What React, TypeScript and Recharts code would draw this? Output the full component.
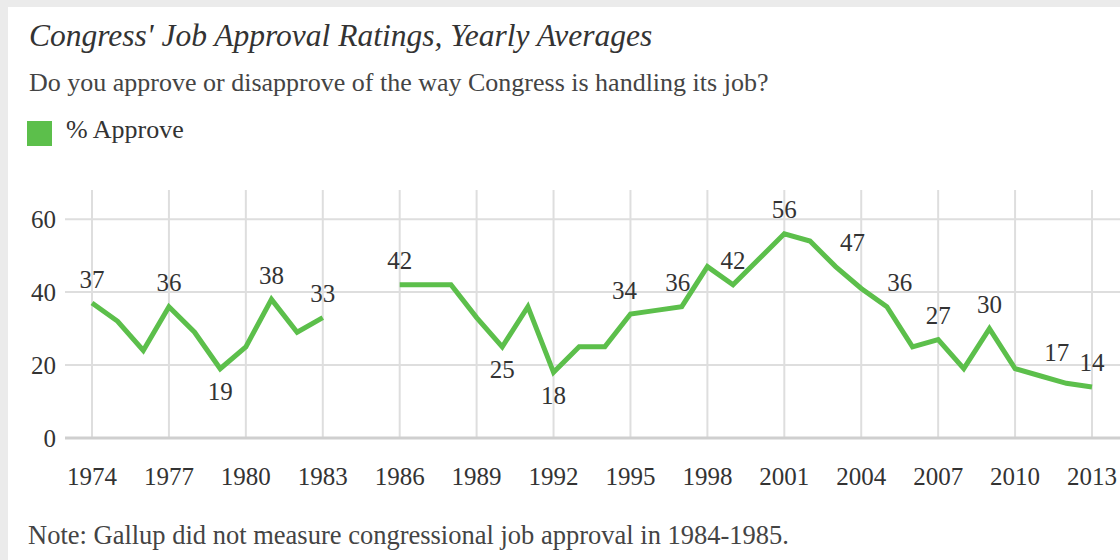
import { CartesianGrid, LabelList, Line, LineChart, XAxis, YAxis } from "recharts";

const years = [
  1974, 1975, 1976, 1977, 1978, 1979, 1980, 1981, 1982, 1983, 1984, 1985, 1986,
  1987, 1988, 1989, 1990, 1991, 1992, 1993, 1994, 1995, 1996, 1997, 1998, 1999,
  2000, 2001, 2002, 2003, 2004, 2005, 2006, 2007, 2008, 2009, 2010, 2011, 2012,
  2013,
];

// 1984-1985 not measured -> null keeps the gap in the line
const approve: (number | null)[] = [
  37, 32, 24, 36, 29, 19, 25, 38, 29, 33, null, null, 42, 42, 42, 33, 25, 36, 18,
  25, 25, 34, 35, 36, 47, 42, 49, 56, 54, 47, 41, 36, 25, 27, 19, 30, 19, 17, 15,
  14,
];

const xTicks = [
  1974, 1977, 1980, 1983, 1986, 1989, 1992, 1995, 1998, 2001, 2004, 2007, 2010,
  2013,
];
const yTicks = [0, 20, 40, 60];

const labelsAbove = [
  1974, 1977, 1981, 1983, 1986, 1995, 1997, 1999, 2001, 2003, 2005, 2007, 2009,
  2011, 2013,
];
const labelsBelow = [1979, 1990, 1992];

// small horizontal nudges so labels clear the line, like the original
const labelNudge: Record<number, number> = {
  1995: -6,
  1997: -4,
  2003: 17,
  2005: 13,
  2011: 16,
};

const data = years.map((year, i) => ({ year, approve: approve[i] }));

const GREEN = "#5cbf4b";
const FONT = '"Liberation Serif", "DejaVu Serif", serif';

const PointLabel = (props: any) => {
  const { x, y, value, index } = props;
  if (value == null) return null;
  const year = years[index];
  const above = labelsAbove.includes(year);
  const below = labelsBelow.includes(year);
  if (!above && !below) return null;
  const dx = labelNudge[year] ?? 0;
  return (
    <text
      x={x + dx}
      y={above ? y - 24 : y + 23}
      textAnchor="middle"
      dominantBaseline="central"
      fill="#333"
      fontSize={25}
      fontFamily={FONT}
    >
      {value}
    </text>
  );
};

export default function App() {
  return (
    <div
      style={{
        position: "absolute",
        left: 0,
        top: 0,
        width: 1120,
        height: 560,
        background: "#ebebeb",
        fontFamily: FONT,
        overflow: "hidden",
      }}
    >
      <div
        style={{
          position: "absolute",
          left: 8,
          top: 7,
          width: 1112,
          height: 553,
          background: "#fff",
        }}
      />

      <div
        style={{
          position: "absolute",
          left: 29,
          top: 20,
          fontSize: 31.5,
          lineHeight: "31px",
          fontStyle: "italic",
          color: "#333",
          whiteSpace: "nowrap",
        }}
      >
        Congress' Job Approval Ratings, Yearly Averages
      </div>
      <div
        style={{
          position: "absolute",
          left: 29,
          top: 70,
          fontSize: 26,
          lineHeight: "26px",
          color: "#444",
          whiteSpace: "nowrap",
        }}
      >
        Do you approve or disapprove of the way Congress is handling its job?
      </div>

      {/* legend */}
      <div
        style={{
          position: "absolute",
          left: 27,
          top: 121,
          width: 25,
          height: 25,
          background: GREEN,
        }}
      />
      <div
        style={{
          position: "absolute",
          left: 66,
          top: 117,
          fontSize: 26,
          lineHeight: "26px",
          color: "#333",
          whiteSpace: "nowrap",
        }}
      >
        % Approve
      </div>

      <div style={{ position: "absolute", left: 0, top: 0 }}>
        <LineChart
          width={1120}
          height={560}
          data={data}
          margin={{ top: 190, right: 0, bottom: 0, left: 0 }}
        >
          <CartesianGrid stroke="#dedede" strokeWidth={2} syncWithTicks />
          <XAxis
            dataKey="year"
            type="number"
            domain={[1974, 2013]}
            ticks={xTicks}
            padding={{ left: 27, right: 28 }}
            height={122}
            tickLine={false}
            tickSize={0}
            tickMargin={29}
            axisLine={{ stroke: "#cfcfcf", strokeWidth: 3 }}
            tick={{ fill: "#333", fontSize: 25, fontFamily: FONT }}
            interval={0}
          />
          <YAxis
            domain={[0, 68]}
            ticks={yTicks}
            width={65}
            axisLine={false}
            tickLine={false}
            tickSize={0}
            tickMargin={9}
            tick={{ fill: "#333", fontSize: 25, fontFamily: FONT }}
          />
          <Line
            dataKey="approve"
            stroke={GREEN}
            strokeWidth={5}
            strokeLinejoin="miter"
            dot={false}
            activeDot={false}
            connectNulls={false}
            isAnimationActive={false}
          >
            <LabelList dataKey="approve" content={PointLabel} />
          </Line>
        </LineChart>
      </div>

      <div
        style={{
          position: "absolute",
          left: 28,
          top: 522,
          fontSize: 26.5,
          lineHeight: "26px",
          color: "#444",
          whiteSpace: "nowrap",
        }}
      >
        Note: Gallup did not measure congressional job approval in 1984-1985.
      </div>
    </div>
  );
}
